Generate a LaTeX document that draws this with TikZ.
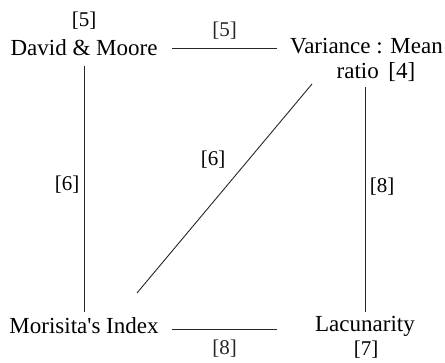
\documentclass[tikz,border=0pt]{standalone}
\usepackage{fontspec}
\setmainfont{Liberation Serif}
\begin{document}
\begin{tikzpicture}[x=1pt,y=-1pt,
  lbl/.style={inner sep=0pt,font=\fontsize{23}{27}\selectfont},
  num/.style={inner sep=0pt,font=\fontsize{21}{25}\selectfont},
  conn/.style={line width=0.9pt,black!85}]
\useasboundingbox (0,0) rectangle (445,362);
% nodes
\node[lbl] (dm) at (84,48) {David \& Moore};
\node[num] (dmn) at (84,21) {[5]};
\node[lbl] (vm) at (366.5,46) {Variance : Mean};
\node[lbl] (vr) at (376,72) {ratio\, [4]};
\node[lbl] (mi) at (84,326) {Morisita\textquotesingle s Index};
\node[lbl] (la) at (365,326) {Lacunarity};
\node[num] (lan) at (366,350) {[7]};
% connector ends
\coordinate (t1) at (172,48);
\coordinate (t2) at (277,48);
\coordinate (l1) at (84,66);
\coordinate (l2) at (84,312);
\coordinate (r1) at (365,87);
\coordinate (r2) at (365,312);
\coordinate (d1) at (312,84);
\coordinate (d2) at (137,293);
\coordinate (b1) at (172,329);
\coordinate (b2) at (277,329);
% connectors
\draw[conn] (t1) -- (t2) node[num,midway,above=8pt] (e1) {[5]};
\draw[conn] (l1) -- (l2);
\node[num] (e2) at (67,185) {[6]};
\draw[conn] (r1) -- (r2);
\node[num] (e3) at (382,187) {[8]};
\draw[conn] (d1) -- (d2);
\node[num] (e4) at (213,160) {[6]};
\draw[conn] (b1) -- (b2) node[num,midway,below=10pt] (e5) {[8]};
\end{tikzpicture}
\end{document}
